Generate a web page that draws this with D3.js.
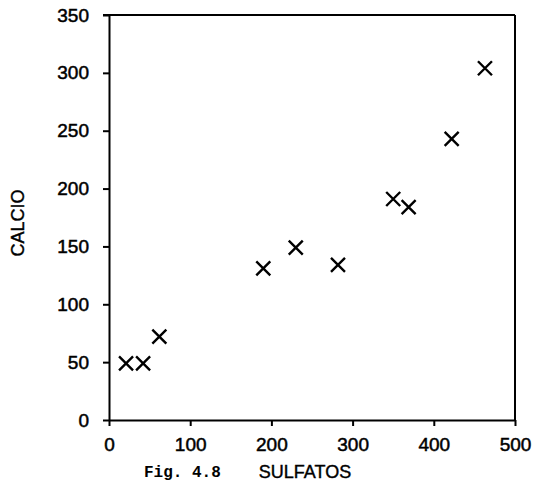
<!DOCTYPE html>
<html><head><meta charset="utf-8">
<script src="https://cdn.jsdelivr.net/npm/d3@7"></script>
<style>body{margin:0;background:#fff;}svg{display:block;}</style>
</head><body>
<svg id="c" width="537" height="493"></svg>
<script>
const sulfatos = [21, 42, 62, 190, 230, 282, 350, 369, 422, 463];
const calcio   = [49, 49, 72, 131, 149, 134, 191, 184, 243, 304];
const xTicks = [0, 100, 200, 300, 400, 500];
const yTicks = [0, 50, 100, 150, 200, 250, 300, 350];
const xLabel = "SULFATOS";
const yLabel = "CALCIO";
const figLabel = "Fig. 4.8";

const svg = d3.select("#c");
const x = d3.scaleLinear().domain([0, 500]).range([109, 515]);
const y = d3.scaleLinear().domain([0, 350]).range([420, 15]);
const font = "'Liberation Sans', Arial, sans-serif";

// frame top and right
svg.append("line").attr("x1", x(0) - 6).attr("x2", x(500)).attr("y1", y(350)).attr("y2", y(350))
  .attr("stroke", "#000").attr("stroke-width", 2);
svg.append("line").attr("x1", x(500)).attr("x2", x(500)).attr("y1", y(350)).attr("y2", y(0))
  .attr("stroke", "#000").attr("stroke-width", 2);

const xAxis = svg.append("g").attr("transform", `translate(0,${y(0)})`)
  .call(d3.axisBottom(x).tickValues(xTicks).tickSize(6).tickPadding(11).tickSizeOuter(0));
const yAxis = svg.append("g").attr("transform", `translate(${x(0)},0)`)
  .call(d3.axisLeft(y).tickValues(yTicks).tickSize(6).tickPadding(14).tickSizeOuter(0));
[xAxis, yAxis].forEach(g => {
  g.select(".domain").attr("stroke", "#000").attr("stroke-width", 2);
  g.selectAll(".tick line").attr("stroke", "#000").attr("stroke-width", 2);
  g.selectAll(".tick text").attr("fill", "#000").attr("stroke", "#000").attr("stroke-width", 0.5)
    .style("font-family", font).style("font-size", "19px");
});
xAxis.selectAll(".tick text").attr("dy", "0.75em");

// markers (X)
const s = 7;
const pts = svg.append("g");
sulfatos.forEach((v, i) => {
  const cx = x(v), cy = y(calcio[i]);
  pts.append("path")
    .attr("d", `M${cx - s},${cy - s}L${cx + s},${cy + s}M${cx - s},${cy + s}L${cx + s},${cy - s}`)
    .attr("stroke", "#000").attr("stroke-width", 2.4).attr("fill", "none");
});

svg.append("text").attr("x", 305).attr("y", 478).attr("text-anchor", "middle")
  .attr("stroke", "#000").attr("stroke-width", 0.4)
  .style("font-family", font).style("font-size", "18px").text(xLabel);
svg.append("text").attr("transform", "translate(24,223) rotate(-90)").attr("text-anchor", "middle")
  .attr("stroke", "#000").attr("stroke-width", 0.4)
  .style("font-family", font).style("font-size", "18px").text(yLabel);
svg.append("text").attr("x", 144).attr("y", 477)
  .style("font-family", "'Liberation Mono', 'DejaVu Sans Mono', monospace").style("font-weight", "bold")
  .style("font-size", "16px").text(figLabel);
</script>
</body></html>
